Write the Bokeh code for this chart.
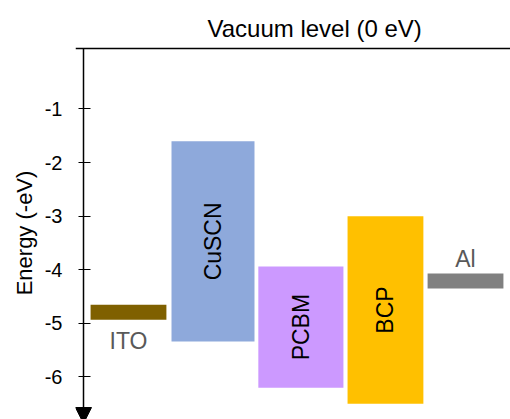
import math
from bokeh.plotting import figure
from bokeh.models import Range1d, Span, Arrow, NormalHead, FixedTicker, ColumnDataSource, Title
from bokeh.core.properties import value
from bokeh.embed import file_html
from bokeh.resources import INLINE

# ---- data ----
materials = ["ITO", "CuSCN", "PCBM", "BCP", "Al"]
level_top = [-4.65, -1.60, -3.94, -3.00, -4.07]
level_bottom = [-4.93, -5.34, -6.20, -6.50, -4.35]
colors = ["#7F6000", "#8EA9DB", "#CC99FF", "#FFC000", "#808080"]
tick_values = [-1, -2, -3, -4, -5, -6]
tick_labels = ["-1", "-2", "-3", "-4", "-5", "-6"]
title_text = "Vacuum level (0 eV)"
y_label = "Energy (-eV)"

# ---- layout (positions) ----
x_center = [0.534, 1.537, 2.580, 3.584, 4.534]
x_width = [0.90, 0.985, 1.01, 0.90, 0.90]
Y_LINE = 0.129      # vacuum level line
Y_TOP = 0.166
Y_BOTTOM = -6.793
X_START = -0.095
X_END = 5.068
FONT = "Liberation Sans"

left = [c - w / 2 for c, w in zip(x_center, x_width)]
right = [c + w / 2 for c, w in zip(x_center, x_width)]
mid = [(t + b) / 2 for t, b in zip(level_top, level_bottom)]

src = ColumnDataSource(dict(name=materials, top=level_top, bottom=level_bottom,
                            left=left, right=right, x=x_center, mid=mid, color=colors))

p = figure(width=510, height=419, x_range=Range1d(X_START, X_END), y_range=Range1d(Y_BOTTOM, Y_TOP),
           output_backend="svg", toolbar_location=None, x_axis_type=None,
           min_border_left=75, min_border_right=0, min_border_top=46, min_border_bottom=0)
p.grid.visible = False
p.outline_line_color = None
p.background_fill_color = "white"

p.quad(left="left", right="right", top="top", bottom="bottom", fill_color="color",
       line_color=None, source=src)

# rotated labels inside the tall bars
inner = ColumnDataSource(dict(x=x_center[1:4], y=mid[1:4], t=materials[1:4]))
p.text(x="x", y="y", text="t", source=inner, angle=math.pi / 2, text_align="center",
       text_baseline="middle", text_font=value(FONT), text_font_size="23px", text_color="black")

# electrode labels
p.text(x=[x_center[0]], y=[level_bottom[0]], text=[materials[0]], text_align="center",
       text_baseline="top", y_offset=8, text_font=value(FONT), text_font_size="23px",
       text_color="#595959")
p.text(x=[x_center[4]], y=[level_top[4]], text=[materials[4]], text_align="center",
       text_baseline="bottom", y_offset=-2, text_font=value(FONT), text_font_size="23px",
       text_color="#595959")

# vacuum level line
p.add_layout(Span(location=Y_LINE, dimension="width", line_color="black", line_width=1.5))
# energy axis line with arrow head
p.add_layout(Arrow(end=NormalHead(size=16, fill_color="black", line_color="black", line_width=1),
                   x_start=0, y_start=Y_LINE, x_end=0, y_end=Y_BOTTOM - 0.075,
                   line_width=1.5, line_color="black"))

ax = p.yaxis[0]
ax.ticker = FixedTicker(ticks=tick_values)
ax.major_label_overrides = {v: l for v, l in zip(tick_values, tick_labels)}
ax.minor_tick_line_color = None
ax.axis_line_color = None
ax.major_tick_line_color = "black"
ax.major_tick_line_width = 1.2
ax.major_tick_in = 15
ax.major_tick_out = -3
ax.major_label_standoff = 13
ax.major_label_text_font = FONT
ax.major_label_text_font_size = "20px"
ax.major_label_text_color = "black"
ax.axis_label = y_label
ax.axis_label_text_font = FONT
ax.axis_label_text_font_size = "22px"
ax.axis_label_text_font_style = "normal"
ax.axis_label_text_color = "black"
ax.axis_label_standoff = 5

p.title = Title(text=title_text, align="left", offset=132, text_font=FONT,
                text_font_size="24px", text_font_style="normal", text_color="black",
                standoff=10)

open("out.html", "w").write(file_html(p, INLINE))
